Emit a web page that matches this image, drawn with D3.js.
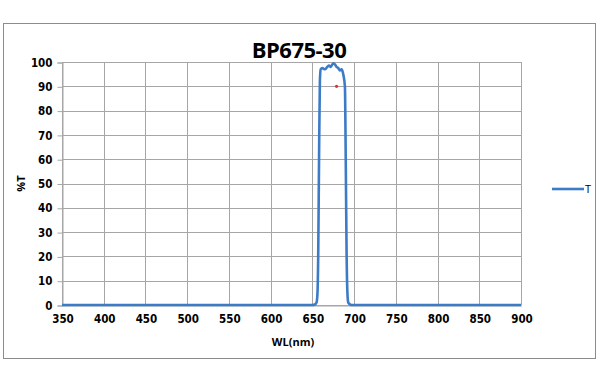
<!DOCTYPE html>
<html>
<head>
<meta charset="utf-8">
<script src="https://cdn.jsdelivr.net/npm/d3@7"></script>
<style>
  body { margin: 0; background: #fff; }
  svg { display: block; }
</style>
</head>
<body>
<svg id="chart" width="600" height="383"></svg>
<script>
// transmission curve
const wavelengths = [350, 400, 450, 500, 550, 600, 640, 650, 653, 655, 656, 657, 658, 659, 660, 662, 665, 668, 670, 672, 675, 677, 679, 681, 683, 685, 687, 689, 690, 691, 692, 693, 695, 698, 700, 750, 800, 850, 900];
const transmission = [0, 0, 0, 0, 0, 0, 0, 0, 0.2, 1, 4, 20, 60, 92, 97, 97.5, 97, 98, 98.5, 98, 99.5, 99, 98, 97.5, 96.5, 97, 95, 90, 60, 22, 5, 1, 0.3, 0, 0, 0, 0, 0, 0];
const markerPoint = [679, 90];
const xTicks = [350, 400, 450, 500, 550, 600, 650, 700, 750, 800, 850, 900];
const yTicks = [0, 10, 20, 30, 40, 50, 60, 70, 80, 90, 100];
const seriesName = 'T';
const chartTitle = 'BP675-30';

const svg = d3.select('#chart');
const plot = { left: 62, top: 62, right: 521, bottom: 305 };

// outer frame
svg.append('rect')
    .attr('x', 3.5).attr('y', 23.5)
    .attr('width', 592).attr('height', 335)
    .attr('fill', '#fff')
    .attr('stroke', '#8c8c8c')
    .attr('stroke-width', 1);

const xScale = d3.scaleLinear().domain([350, 900]).range([plot.left, plot.right]);
const yScale = d3.scaleLinear().domain([0, 100]).range([plot.bottom, plot.top]);

// gridlines
const grid = svg.append('g');
grid.selectAll('.vg').data(xTicks).enter().append('line')
    .attr('x1', d => Math.round(xScale(d)) + 0.5).attr('x2', d => Math.round(xScale(d)) + 0.5)
    .attr('y1', plot.top).attr('y2', plot.bottom)
    .attr('stroke', '#a6a6a6').attr('stroke-width', 1);
grid.selectAll('.hg').data(yTicks).enter().append('line')
    .attr('x1', plot.left).attr('x2', plot.right)
    .attr('y1', d => Math.round(yScale(d)) + 0.5).attr('y2', d => Math.round(yScale(d)) + 0.5)
    .attr('stroke', '#a6a6a6').attr('stroke-width', 1);

// y axis
const yAxis = svg.append('g')
    .attr('transform', `translate(${plot.left + 0.5},0.5)`)
    .call(d3.axisLeft(yScale).tickValues(yTicks).tickSize(5).tickPadding(5));
yAxis.select('.domain').attr('stroke', '#a6a6a6');
yAxis.selectAll('.tick line').attr('stroke', '#a6a6a6');
yAxis.selectAll('.tick text')
    .attr('fill', '#000')
    .style('font-family', '"DejaVu Sans Condensed", "DejaVu Sans", sans-serif')
    .style('font-weight', 'bold')
    .style('font-size', '11.5px');

// x axis
const xAxis = svg.append('g')
    .attr('transform', `translate(0.5,${plot.bottom + 0.5})`)
    .call(d3.axisBottom(xScale).tickValues(xTicks).tickSize(0).tickPadding(9));
xAxis.select('.domain').attr('stroke', '#a6a6a6');
xAxis.selectAll('.tick text')
    .attr('fill', '#000')
    .style('font-family', '"DejaVu Sans Condensed", "DejaVu Sans", sans-serif')
    .style('font-weight', 'bold')
    .style('font-size', '11.5px');

// curve
const data = wavelengths.map((w, i) => [w, transmission[i]]);
const line = d3.line()
    .x(d => xScale(d[0]))
    .y(d => yScale(d[1]))
    .curve(d3.curveMonotoneX);

svg.append('path')
    .datum(data)
    .attr('fill', 'none')
    .attr('stroke', '#3c7bc6')
    .attr('stroke-width', 2.6)
    .attr('stroke-linejoin', 'round')
    .attr('d', line);

// small red marker
svg.append('circle')
    .attr('cx', xScale(markerPoint[0]))
    .attr('cy', yScale(markerPoint[1]))
    .attr('r', 1.6)
    .attr('fill', '#e03030');

// title
svg.append('text')
    .attr('x', 299).attr('y', 58)
    .attr('text-anchor', 'middle')
    .style('font-family', '"Open Sans", "Noto Sans", sans-serif')
    .style('font-weight', 'bold')
    .style('font-size', '22px')
    .style('letter-spacing', '-0.5px')
    .text(chartTitle);

// axis titles
svg.append('text')
    .attr('x', 293).attr('y', 346)
    .attr('text-anchor', 'middle')
    .style('font-family', '"Open Sans", "Noto Sans", sans-serif')
    .style('font-weight', 'bold')
    .style('font-size', '11px')
    .text('WL(nm)');

svg.append('text')
    .attr('transform', `translate(25,${(plot.top + plot.bottom) / 2}) rotate(-90)`)
    .attr('text-anchor', 'middle')
    .style('font-family', '"Open Sans", "Noto Sans", sans-serif')
    .style('font-weight', 'bold')
    .style('font-size', '11px')
    .text('%T');

// legend
const legend = svg.append('g').attr('transform', 'translate(552,189)');
legend.append('line')
    .attr('x1', 0).attr('x2', 32).attr('y1', 0).attr('y2', 0)
    .attr('stroke', '#3c7bc6').attr('stroke-width', 2.6);
legend.append('text')
    .attr('x', 33).attr('y', 4)
    .style('font-family', '"Open Sans", "Noto Sans", sans-serif')
    .style('font-size', '11px')
    .text(seriesName);
</script>
</body>
</html>
